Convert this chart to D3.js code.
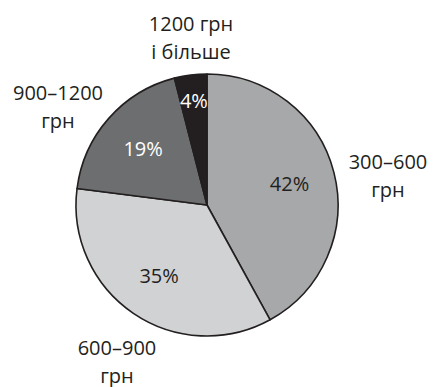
<!DOCTYPE html>
<html>
<head>
<meta charset="utf-8">
<script src="https://cdn.jsdelivr.net/npm/d3@7"></script>
<style>
  body { margin: 0; background: #fff; }
  svg text { font-family: "Open Sans", "Noto Sans", sans-serif; }
</style>
</head>
<body>
<svg id="chart" width="437" height="387"></svg>
<script>
// data
var categories = ["300–600 грн", "600–900 грн", "900–1200 грн", "1200 грн і більше"]
var shares = [42, 35, 19, 4]
var pctLabels = ["42%", "35%", "19%", "4%"]
// category label lines (as printed)
var catLines = [["300–600", "грн"], ["600–900", "грн"], ["900–1200", "грн"], ["1200 грн", "і більше"]]

var width = 437, height = 387
var cx = 207, cy = 205, radius = 131

var fills = ["#a7a8aa", "#d1d2d4", "#6d6e70", "#231f20"]
var textFill = ["#231f20", "#231f20", "#ffffff", "#ffffff"]
var labelK = [0.65, 0.65, 0.65, 0.8]   // where the % sits along the radius

var svg = d3.select("#chart")
var g = svg.append("g").attr("transform", "translate(" + cx + "," + cy + ")")

var pie = d3.pie().sort(null).value(function(d) { return d })
var arcs = pie(shares)

var arc = d3.arc().innerRadius(0).outerRadius(radius)

g.selectAll("path.slice")
  .data(arcs)
  .enter()
  .append("path")
    .attr("class", "slice")
    .attr("d", arc)
    .attr("fill", function(d, i) { return fills[i] })
    .attr("stroke", "#231f20")
    .attr("stroke-width", 1.6)
    .attr("stroke-linejoin", "round")

// percent labels inside
g.selectAll("text.pct")
  .data(arcs)
  .enter()
  .append("text")
    .attr("class", "pct")
    .attr("transform", function(d, i) {
      var a = d3.arc().innerRadius(radius * labelK[i]).outerRadius(radius * labelK[i])
      var c = a.centroid(d)
      return "translate(" + c[0] + "," + c[1] + ")"
    })
    .attr("text-anchor", "middle")
    .attr("dy", "0.36em")
    .attr("fill", function(d, i) { return textFill[i] })
    .style("font-size", "20px")
    .text(function(d, i) { return pctLabels[i] })

// outside category labels: centre x and first baseline
var outPos = [[388, 169], [117, 355], [58, 100], [191, 31]]
var lineGap = 28

svg.selectAll("text.cat")
  .data(catLines)
  .enter()
  .append("text")
    .attr("class", "cat")
    .attr("text-anchor", "middle")
    .attr("fill", "#231f20")
    .style("font-size", "20px")
    .each(function(lines, i) {
      var t = d3.select(this)
      lines.forEach(function(s, k) {
        t.append("tspan")
          .attr("x", outPos[i][0])
          .attr("y", outPos[i][1] + k * lineGap)
          .text(s)
      })
    })
</script>
</body>
</html>
